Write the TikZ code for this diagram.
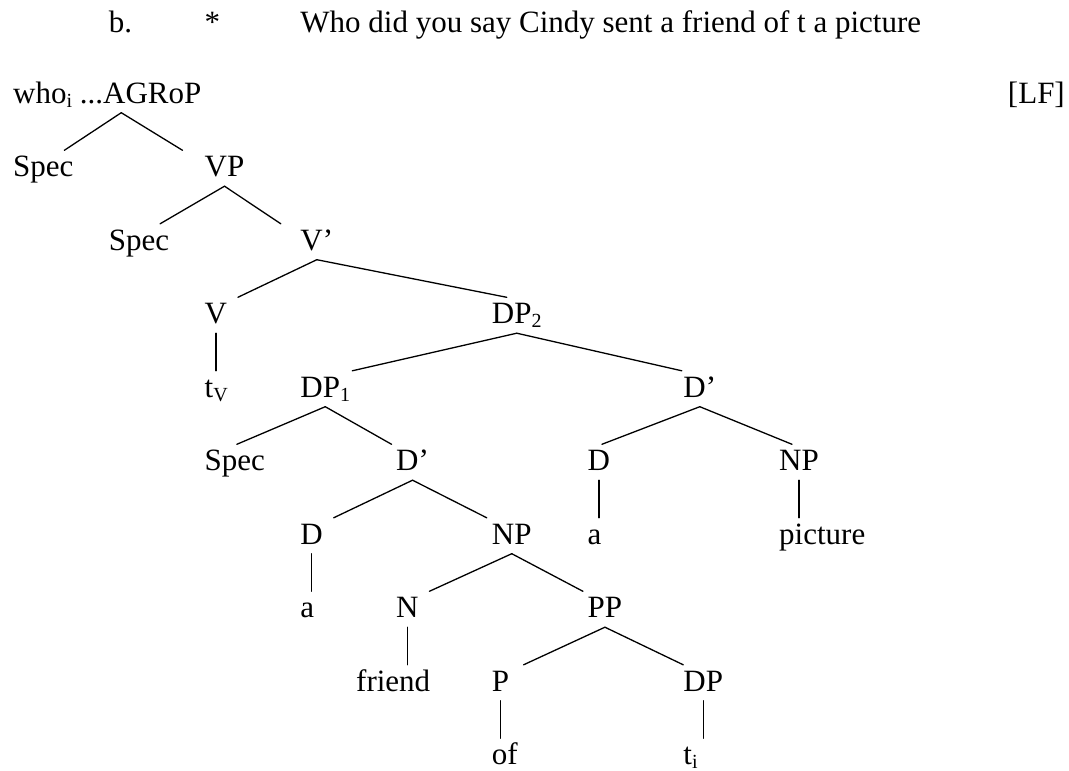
\documentclass[tikz,border=0pt]{standalone}
\usepackage{fontspec}
\setmainfont{Liberation Serif}
\usepackage{tikz}

% one unit across = one tab stop, one unit down = one tree level
\tikzset{
  lbl/.style={anchor=base west, inner xsep=0pt, inner ysep=3pt,
    text height=23pt, text depth=6.5pt, font=\fontsize{31}{36}\selectfont},
  branch/.style={draw=black, line width=1.3pt, line cap=round}
}
% lowered index, as in DP_2 or t_i
\newcommand{\lowidx}[1]{\raisebox{-4pt}{\fontsize{20}{20}\selectfont #1}}
% #1 = shift of the lower end, #2 = mother node, #3 = daughter node
\newcommand{\Branch}[3][0]{%
  \draw[branch] (#2.south) -- ([xshift=#1pt]#3.north);}
% straight line down to a word
\newcommand{\Stem}[2]{%
  \draw[branch] (#1.south) -- (#1.south |- #2.north);}

\begin{document}
\begin{tikzpicture}[x=95.75pt, y=-73.5pt]
  \useasboundingbox (-0.1358,-1.4014) rectangle (11.0287,9.0884);

  % example sentence
  \node[lbl] (ex)   at (1,-0.966) {b.};
  \node[lbl] (star) at (2,-0.966) {*};
  \node[lbl] (sent) at (3,-0.966) {Who did you say Cindy sent a friend of t a picture};

  % the tree
  \node[lbl] (agr) at (0,0) {who\lowidx{i} ...AGRoP};
  \node[lbl, anchor=base east] (lf) at (10.987,0) {[LF]};
  \coordinate (agrtop) at ([xshift=14pt]agr.south);

  \node[lbl] (spec1) at (0,1) {Spec};
  \node[lbl] (vp)    at (2,1) {VP};
  \node[lbl] (spec2) at (1,2) {Spec};
  \node[lbl] (vbar)  at (3,2) {V’};
  \node[lbl] (v)     at (2,3) {V};
  \node[lbl] (dp2)   at (5,3) {DP\lowidx{2}};
  \node[lbl] (tv)    at (2,4) {t\lowidx{V}};
  \node[lbl] (dp1)   at (3,4) {DP\lowidx{1}};
  \node[lbl] (dbarR) at (7,4) {D’};
  \node[lbl] (spec3) at (2,5) {Spec};
  \node[lbl] (dbarL) at (4,5) {D’};
  \node[lbl] (dR)    at (6,5) {D};
  \node[lbl] (npR)   at (8,5) {NP};
  \node[lbl] (dL)    at (3,6) {D};
  \node[lbl] (npL)   at (5,6) {NP};
  \node[lbl] (aR)    at (6,6) {a};
  \node[lbl] (pic)   at (8,6) {picture};
  \node[lbl] (aL)    at (3,7) {a};
  \node[lbl] (n)     at (4,7) {N};
  \node[lbl] (pp)    at (6,7) {PP};
  \node[lbl] (friend) at (3.582,8) {friend};
  \node[lbl] (p)     at (5,8) {P};
  \node[lbl] (dp)    at (7,8) {DP};
  \node[lbl] (of)    at (5,9) {of};
  \node[lbl] (ti)    at (7,9) {t\lowidx{i}};

  \draw[branch] (agrtop) -- ([xshift=21pt]spec1.north);
  \draw[branch] (agrtop) -- ([xshift=-42pt]vp.north);
  \Branch[21]{vp}{spec2}
  \Branch[-36]{vp}{vbar}
  \Branch[22]{vbar}{v}
  \Branch[-10]{vbar}{dp2}
  \Branch[27]{dp2}{dp1}
  \Branch[-18]{dp2}{dbarR}
  \Branch[2]{dp1}{spec3}
  \Branch[-21]{dp1}{dbarL}
  \Branch[3]{dbarR}{dR}
  \Branch[-7]{dbarR}{npR}
  \Branch[22]{dbarL}{dL}
  \Branch[-25]{dbarL}{npL}
  \Branch[22]{npL}{n}
  \Branch[-22]{npL}{pp}
  \Branch[23]{pp}{p}
  \Branch[-20]{pp}{dp}

  \Stem{v}{tv}
  \Stem{dR}{aR}
  \Stem{npR}{pic}
  \Stem{dL}{aL}
  \Stem{n}{friend}
  \Stem{p}{of}
  \Stem{dp}{ti}
\end{tikzpicture}
\end{document}
